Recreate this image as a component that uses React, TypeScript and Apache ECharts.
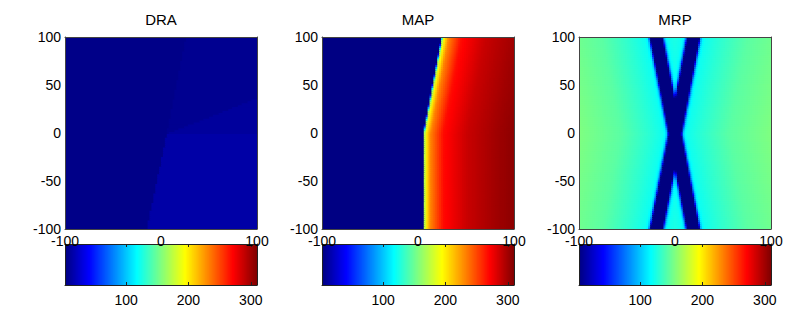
import React, { useEffect, useRef } from "react";
import * as echarts from "echarts";

const PANEL_TITLES = ["DRA", "MAP", "MRP"];
const AXIS_RANGE = [-100, 100];
const X_TICK_STEP = 100;
const Y_TICK_STEP = 50;
const COLORBAR_RANGE = [2, 310];
const COLORBAR_TICKS = [100, 200, 300];
const JET = ["#000080", "#0000ff", "#0080ff", "#00ffff", "#80ff80", "#ffff00", "#ff8000", "#ff0000", "#800000"];

// DRA: nearly uniform dark blue with faint region boundaries
const DRA_EDGE_Y = [-100, 0, 100];
const DRA_EDGE_X = [-15, 6, 26];
const DRA_RIDGE_X = [6, 100];
const DRA_RIDGE_Y = [0, 37];
const DRA_LEVELS = [4.5, 7, 10.5, 13.5]; // left, upper-right, wedge, lower-right

// MAP: dark blue left of the edge, yellow -> red -> dark red to the right
const MAP_EDGE_Y = [-100, 0, 100];
const MAP_EDGE_X = [6, 6, 25];
const MAP_PROFILE_D = [-1, 0.5, 2, 7, 20, 45, 75, 94];
const MAP_PROFILE_V = [3, 165, 195, 232, 268, 288, 300, 306];

// MRP: two crossing dark bands on a cyan-green background
const MRP_BAND_Y = [-100, 0, 100];
const MRP_BAND_A_X = [19, 0, -19.5];
const MRP_BAND_B_X = [-19.5, 0, 19];
const MRP_BAND_HALF = [6.3];
const MRP_PROFILE_D = [0, 1, 2, 3.5, 6, 20, 50, 94];
const MRP_PROFILE_V = [2, 55, 95, 115, 122, 130, 145, 156];

// ---------- layout ----------
const W = 789;
const H = 332;
const PLOT_LEFT = [65, 322, 579];
const PLOT_TOP = 37;
const PLOT_SIZE = 192;
const CBAR_TOP = 244;
const CBAR_H = 41;
const TITLE_Y = 19;
const CELL = 2;
const FONT = "'Liberation Sans', Arial, Helvetica, sans-serif";

function interp(xs: number[], ys: number[], x: number): number {
  if (x <= xs[0]) return ys[0];
  for (let k = 1; k < xs.length; k++) {
    if (x <= xs[k]) {
      const t = (x - xs[k - 1]) / (xs[k] - xs[k - 1]);
      return ys[k - 1] + t * (ys[k] - ys[k - 1]);
    }
  }
  return ys[ys.length - 1];
}

function draField(x: number, y: number): number {
  const edge = interp(DRA_EDGE_Y, DRA_EDGE_X, y);
  if (x < edge) return DRA_LEVELS[0];
  if (y < 0) return DRA_LEVELS[3];
  const ridge = interp(DRA_RIDGE_X, DRA_RIDGE_Y, x);
  if (y < ridge) return DRA_LEVELS[2];
  return DRA_LEVELS[1];
}

function mapField(x: number, y: number): number {
  const edge = interp(MAP_EDGE_Y, MAP_EDGE_X, y);
  return interp(MAP_PROFILE_D, MAP_PROFILE_V, x - edge);
}

function mrpField(x: number, y: number): number {
  const ca = interp(MRP_BAND_Y, MRP_BAND_A_X, y);
  const cb = interp(MRP_BAND_Y, MRP_BAND_B_X, y);
  const d = Math.min(Math.abs(x - ca), Math.abs(x - cb)) - MRP_BAND_HALF[0];
  if (d < 0) return MRP_PROFILE_V[0];
  return interp(MRP_PROFILE_D, MRP_PROFILE_V, d);
}

const FIELDS = [draField, mapField, mrpField];

function buildCells(field: (x: number, y: number) => number): number[][] {
  const out: number[][] = [];
  for (let y0 = AXIS_RANGE[0]; y0 < AXIS_RANGE[1]; y0 += CELL) {
    const yc = y0 + CELL / 2;
    let runStart = AXIS_RANGE[0];
    let runVal = NaN;
    for (let x0 = AXIS_RANGE[0]; x0 < AXIS_RANGE[1]; x0 += CELL) {
      const v = Math.round(field(x0 + CELL / 2, yc) * 2) / 2;
      if (v !== runVal) {
        if (!isNaN(runVal)) out.push([runStart, x0, y0, y0 + CELL, runVal]);
        runStart = x0;
        runVal = v;
      }
    }
    out.push([runStart, AXIS_RANGE[1], y0, y0 + CELL, runVal]);
  }
  return out;
}

function buildColorbar(): number[][] {
  const out: number[][] = [];
  for (let v = COLORBAR_RANGE[0]; v < COLORBAR_RANGE[1]; v += 1) {
    out.push([v, v + 1, 0, 1, v + 0.5]);
  }
  return out;
}

const renderCell = (_params: any, api: any) => {
  const p0 = api.coord([api.value(0), api.value(3)]);
  const p1 = api.coord([api.value(1), api.value(2)]);
  return {
    type: "rect",
    shape: { x: p0[0], y: p0[1], width: p1[0] - p0[0] + 1, height: p1[1] - p0[1] + 1 },
    style: { fill: api.visual("color") },
  };
};

function buildOption() {
  const grid: any[] = [];
  const xAxis: any[] = [];
  const yAxis: any[] = [];
  const series: any[] = [];
  const title: any[] = [];
  const plotLine = { show: true, onZero: false, lineStyle: { color: "#444", width: 1 } };
  const barLine = { show: true, onZero: false, lineStyle: { color: "#222", width: 1 } };
  const label = { color: "#000", fontSize: 14, fontFamily: FONT, showMinLabel: true, showMaxLabel: true };
  const colorbarData = buildColorbar();

  PANEL_TITLES.forEach((name, i) => {
    const pg = 2 * i;
    const cg = 2 * i + 1;
    grid.push({ left: PLOT_LEFT[i], top: PLOT_TOP, width: PLOT_SIZE, height: PLOT_SIZE, outerBoundsMode: "none" });
    grid.push({ left: PLOT_LEFT[i], top: CBAR_TOP, width: PLOT_SIZE, height: CBAR_H, outerBoundsMode: "none" });

    const plotBase = { type: "value", min: AXIS_RANGE[0], max: AXIS_RANGE[1], splitLine: { show: false }, axisTick: { show: false }, axisLine: plotLine, z: 10 };
    xAxis.push({ ...plotBase, gridIndex: pg, position: "bottom", interval: X_TICK_STEP, axisLabel: { ...label, margin: 5 } });
    xAxis.push({ ...plotBase, gridIndex: pg, position: "top", axisLabel: { show: false } });
    xAxis.push({
      type: "value", gridIndex: cg, position: "bottom", min: COLORBAR_RANGE[0], max: COLORBAR_RANGE[1],
      splitLine: { show: false }, axisLine: barLine, z: 10,
      axisTick: { show: true, inside: true, length: 3, customValues: COLORBAR_TICKS, lineStyle: { color: "#222" } },
      axisLabel: { color: "#000", fontSize: 14, fontFamily: FONT, margin: 8, customValues: COLORBAR_TICKS },
    });
    xAxis.push({
      type: "value", gridIndex: cg, position: "top", min: COLORBAR_RANGE[0], max: COLORBAR_RANGE[1],
      splitLine: { show: false }, axisLine: barLine, z: 10,
      axisTick: { show: true, inside: true, length: 3, customValues: COLORBAR_TICKS, lineStyle: { color: "#222" } },
      axisLabel: { show: false },
    });

    yAxis.push({ ...plotBase, gridIndex: pg, position: "left", interval: Y_TICK_STEP, axisLabel: { ...label, margin: 4 } });
    yAxis.push({ ...plotBase, gridIndex: pg, position: "right", axisLabel: { show: false } });
    const barY = { type: "value", gridIndex: cg, min: 0, max: 1, splitLine: { show: false }, axisTick: { show: false }, axisLabel: { show: false }, axisLine: barLine, z: 10 };
    yAxis.push({ ...barY, position: "left" });
    yAxis.push({ ...barY, position: "right" });

    series.push({
      type: "custom", name, xAxisIndex: 4 * i, yAxisIndex: 4 * i, clip: true,
      renderItem: renderCell, encode: { x: [0, 1], y: [2, 3] }, data: buildCells(FIELDS[i]),
      progressive: 0,
    });
    series.push({
      type: "custom", name: name + " colorbar", xAxisIndex: 4 * i + 2, yAxisIndex: 4 * i + 2, clip: true,
      renderItem: renderCell, encode: { x: [0, 1], y: [2, 3] }, data: colorbarData,
      progressive: 0,
    });

    title.push({
      text: name, left: PLOT_LEFT[i] + PLOT_SIZE / 2, top: TITLE_Y, textAlign: "center", textVerticalAlign: "middle",
      padding: 0, textStyle: { fontSize: 15, fontWeight: "normal", color: "#000", fontFamily: FONT },
    });
  });

  return {
    animation: false,
    backgroundColor: "#fff",
    title,
    grid,
    xAxis,
    yAxis,
    visualMap: {
      type: "continuous", show: false, min: COLORBAR_RANGE[0], max: COLORBAR_RANGE[1], dimension: 4,
      inRange: { color: JET },
    },
    series,
  };
}

export default function App() {
  const ref = useRef<HTMLDivElement>(null);
  useEffect(() => {
    if (!ref.current) return;
    const chart = echarts.init(ref.current, null, { renderer: "svg" });
    chart.setOption(buildOption() as any);
    return () => chart.dispose();
  }, []);
  return <div ref={ref} style={{ position: "fixed", left: 0, top: 0, width: W, height: H, background: "#fff" }} />;
}
